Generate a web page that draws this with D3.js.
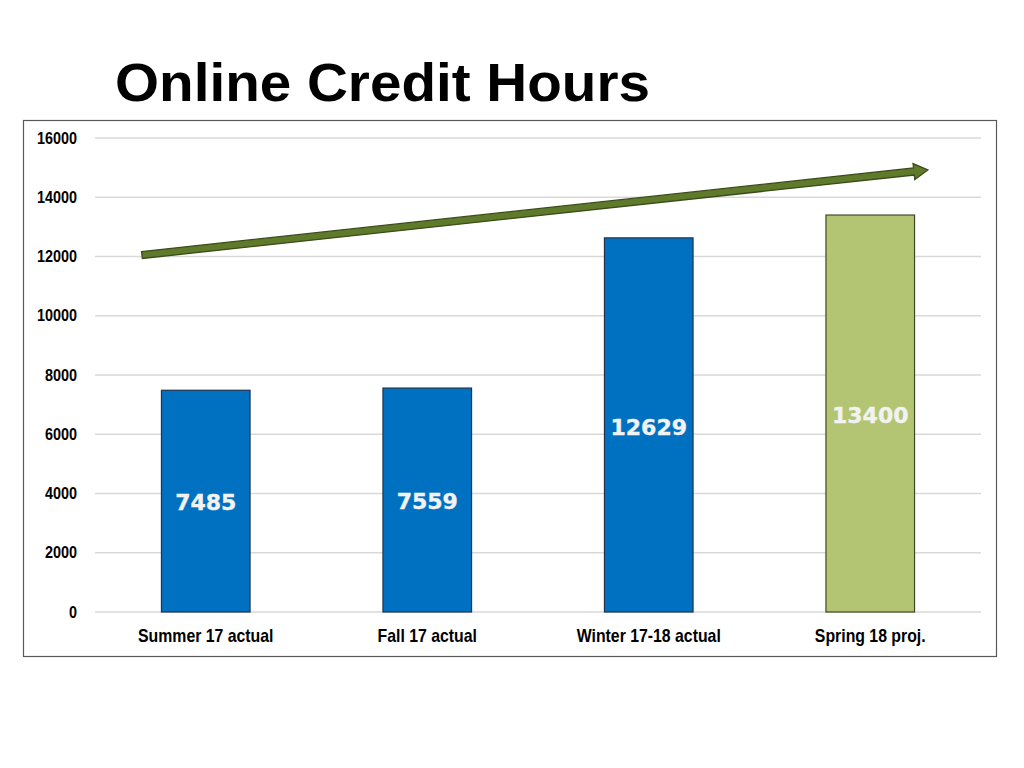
<!DOCTYPE html>
<html>
<head>
<meta charset="utf-8">
<title>Online Credit Hours</title>
<script src="https://cdn.jsdelivr.net/npm/d3@7"></script>
<style>
  body { margin: 0; background: #fff; }
</style>
</head>
<body>
<svg width="1024" height="768"></svg>
<script>
// chart data
var categories = ["Summer 17 actual", "Fall 17 actual", "Winter 17-18 actual", "Spring 18 proj."];
var hours = [7485, 7559, 12629, 13400];
var barColors = ["#0070c0", "#0070c0", "#0070c0", "#b3c572"];
var yTicks = [0, 2000, 4000, 6000, 8000, 10000, 12000, 14000, 16000];
// trend arrow, start and end value
var trend = [12050, 14920];

var svg = d3.select("svg");
var font = "'Liberation Sans', Arial, sans-serif";

// title
svg.append("text")
  .attr("x", 115).attr("y", 101)
  .attr("font-family", font).attr("font-weight", "bold")
  .attr("font-size", 53)
  .attr("textLength", 535).attr("lengthAdjust", "spacingAndGlyphs")
  .attr("fill", "#000")
  .text("Online Credit Hours");

// chart frame
svg.append("rect")
  .attr("x", 23.5).attr("y", 120.5)
  .attr("width", 973).attr("height", 536)
  .attr("fill", "none").attr("stroke", "#595959").attr("stroke-width", 1.2);

var x = d3.scaleBand().domain(categories).range([95, 981]).paddingInner(0.6).paddingOuter(0.3);
var y = d3.scaleLinear().domain([0, 16000]).range([612, 138]);

// gridlines
svg.append("g").selectAll("line")
  .data(yTicks).enter().append("line")
  .attr("x1", 95).attr("x2", 981)
  .attr("y1", function(d){ return y(d); })
  .attr("y2", function(d){ return y(d); })
  .attr("stroke", "#d9d9d9").attr("stroke-width", 1.3);

// y axis labels
var yAxis = svg.append("g")
  .attr("transform", "translate(77,0)")
  .call(d3.axisLeft(y).tickValues(yTicks).tickFormat(d3.format("d")).tickSize(0).tickPadding(0));
yAxis.select(".domain").remove();
yAxis.selectAll("text")
  .attr("font-family", font).attr("font-weight", "bold")
  .attr("font-size", 16).attr("fill", "#000")
  .attr("textLength", function(d){ return String(d).length * 8; })
  .attr("lengthAdjust", "spacingAndGlyphs");

// x axis labels
var xAxis = svg.append("g")
  .attr("transform", "translate(0,612)")
  .call(d3.axisBottom(x).tickSize(0).tickPadding(17));
xAxis.select(".domain").remove();
xAxis.selectAll("text")
  .attr("font-family", font).attr("font-weight", "bold")
  .attr("font-size", 18).attr("fill", "#000")
  .attr("transform", "scale(0.88,1)");

// bars
svg.append("g").selectAll("rect")
  .data(hours).enter().append("rect")
  .attr("x", function(d, i){ return x(categories[i]); })
  .attr("y", function(d){ return y(d); })
  .attr("width", x.bandwidth())
  .attr("height", function(d){ return y(0) - y(d); })
  .attr("fill", function(d, i){ return barColors[i]; })
  .attr("stroke", function(d, i){ return i === 3 ? "#3f4a26" : "#1d3550"; })
  .attr("stroke-width", 1.2);

// value labels, at mid bar
svg.append("g").selectAll("text")
  .data(hours).enter().append("text")
  .attr("x", function(d, i){ return x(categories[i]) + x.bandwidth()/2; })
  .attr("y", function(d){ return y(d * 0.495); })
  .attr("dy", "0.36em")
  .attr("text-anchor", "middle")
  .attr("font-family", "'DejaVu Sans', Verdana, sans-serif")
  .attr("font-weight", "bold").attr("font-size", 22)
  .attr("fill", "#f2f2f2")
  .attr("stroke", "#f2f2f2").attr("stroke-width", 0.4)
  .text(function(d){ return d; });

// trend arrow
var x0 = x(categories[0]) - 0.22 * x.bandwidth();
var x1 = x(categories[3]) + 1.15 * x.bandwidth();
var ya = y(trend[0]), yb = y(trend[1]);
var ang = Math.atan2(yb - ya, x1 - x0);
var len = Math.hypot(x1 - x0, yb - ya);
var sw = 3.5, hw = 8, hl = 14;
var arrowPts = [[0, -sw], [len - hl, -sw], [len - hl, -hw], [len, 0], [len - hl, hw], [len - hl, sw], [0, sw]];
svg.append("path")
  .attr("d", d3.line()(arrowPts) + "Z")
  .attr("transform", "translate(" + x0 + "," + ya + ") rotate(" + (ang * 180 / Math.PI) + ")")
  .attr("fill", "#5f7a2b").attr("stroke", "#3b4c1a").attr("stroke-width", 1.3);
</script>
</body>
</html>
